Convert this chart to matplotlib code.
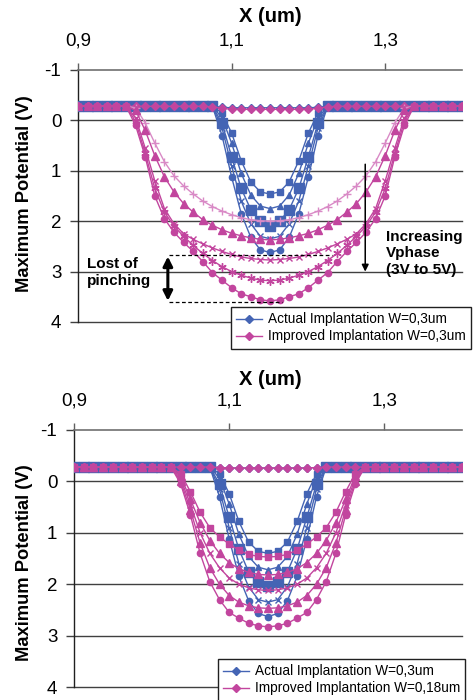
import numpy as np
import matplotlib.pyplot as plt
from matplotlib.lines import Line2D

plt.rcParams['font.family'] = ['Liberation Sans', 'DejaVu Sans']
plt.rcParams['axes.unicode_minus'] = False

BLUE = '#4464B4'
MAGENTA = '#C2459E'
PINK = '#D98AC6'
GRID = '#404040'

# simulation points along the channel (um); wells are centred at 1.15 um
x_pos = np.round(np.arange(0.9, 1.4 + 1e-9, 0.0125), 4)
x_center = 1.15
baseline = -0.28

# half profiles of the maximum potential (V), from the well centre outward,
# one value per 0.0125 um; past the end the curve sits on the baseline
# -- actual implantation, W = 0.3 um (upper panel)
act_top_dia = [-0.25, -0.25, -0.25, -0.25, -0.25, -0.26]
act_top_sq = [1.46, 1.42, 1.22, 0.80, 0.25, -0.15]
act_top_tri = [1.75, 1.70, 1.48, 1.05, 0.45, -0.05]
act_top_bsq = [2.09, 2.00, 1.77, 1.35, 0.72, 0.05]
act_top_x = [2.35, 2.30, 2.05, 1.60, 0.90, 0.15]
act_top_circ = [2.62, 2.57, 2.32, 1.85, 1.12, 0.30]
# -- improved implantation, W = 0.3 um (upper panel)
imp_top_dia = [-0.22, -0.22, -0.22, -0.22, -0.22, -0.24, -0.27]
imp_top_plus = [2.00, 1.99, 1.97, 1.93, 1.87, 1.80, 1.71, 1.60, 1.46, 1.30, 1.10, 0.82, 0.45, 0.05, -0.25]
imp_top_tri = [2.37, 2.36, 2.33, 2.29, 2.24, 2.17, 2.08, 1.97, 1.82, 1.65, 1.42, 1.12, 0.70, 0.20, -0.20]
imp_top_x = [2.77, 2.76, 2.74, 2.71, 2.66, 2.60, 2.53, 2.45, 2.36, 2.25, 2.05, 1.75, 1.20, 0.55, -0.05]
imp_top_star = [3.18, 3.17, 3.13, 3.07, 3.00, 2.90, 2.78, 2.64, 2.48, 2.30, 2.10, 1.82, 1.35, 0.65, 0.02]
imp_top_circ = [3.58, 3.56, 3.50, 3.44, 3.32, 3.17, 3.02, 2.80, 2.60, 2.42, 2.22, 1.95, 1.50, 0.72, 0.10]

# -- actual implantation, W = 0.3 um (lower panel)
act_bot_dia = [-0.26, -0.26, -0.26, -0.26, -0.26, -0.27]
act_bot_sq = [1.40, 1.36, 1.18, 0.78, 0.24, -0.15]
act_bot_tri = [1.72, 1.67, 1.46, 1.03, 0.44, -0.06]
act_bot_bsq = [2.03, 1.96, 1.76, 1.32, 0.70, 0.05]
act_bot_x = [2.35, 2.30, 2.05, 1.60, 0.90, 0.15]
act_bot_circ = [2.63, 2.57, 2.32, 1.85, 1.12, 0.30]
# -- improved implantation, W = 0.18 um (lower panel)
imp_bot_dia = [-0.26, -0.26, -0.26, -0.26, -0.26, -0.27]
imp_bot_sq = [1.47, 1.46, 1.42, 1.34, 1.22, 1.08, 0.90, 0.60, 0.20, -0.15]
imp_bot_tri = [1.82, 1.81, 1.77, 1.70, 1.58, 1.40, 1.15, 0.80, 0.35, -0.10]
imp_bot_x = [2.12, 2.11, 2.07, 2.00, 1.88, 1.68, 1.40, 1.00, 0.45, -0.05]
imp_bot_tri2 = [2.47, 2.46, 2.42, 2.35, 2.22, 2.00, 1.68, 1.20, 0.55, 0.00]
imp_bot_circ = [2.83, 2.81, 2.76, 2.66, 2.55, 2.30, 1.95, 1.40, 0.65, 0.05]

ASTERISK = (6, 2, 0)


def profile(half):
    """Full curve on x_pos: mirrored half profile on the flat baseline."""
    y = np.full(x_pos.size, baseline)
    c = int(np.argmin(np.abs(x_pos - x_center)))
    n = len(half)
    y[c - n + 1:c + n] = np.r_[half[:0:-1], half]
    return y


def draw_series(ax, half, color, marker, ms):
    ax.plot(x_pos, profile(half), color=color, lw=1, marker=marker, ms=ms,
            mfc=color, mec=color, mew=1, zorder=3)


def style_axes(ax):
    ax.set_xlim(0.9, 1.4)
    ax.set_ylim(4, -1)
    ax.xaxis.tick_top()
    ax.set_xticks([0.9, 1.1, 1.3])
    ax.set_xticklabels(['0,9', '1,1', '1,3'])
    ax.set_yticks([-1, 0, 1, 2, 3, 4])
    ax.tick_params(axis='x', direction='out', length=5, width=1, pad=10,
                   labelsize=13.5, color='#606060')
    ax.tick_params(axis='y', direction='out', length=6, width=1, pad=6,
                   labelsize=13.5, color=GRID)
    for s in ('right', 'bottom'):
        ax.spines[s].set_visible(False)
    ax.spines['top'].set_color('#707070')
    ax.spines['top'].set_linewidth(1.2)
    ax.spines['left'].set_color('#202020')
    ax.spines['left'].set_linewidth(1)
    for v in [0, 1, 2, 3, 4]:
        ax.axhline(v, color=GRID, lw=1, zorder=1, clip_on=False)


def add_legend(fig, x0, y0, labels):
    handles = [Line2D([], [], color=BLUE, marker='D', ms=4, lw=1),
               Line2D([], [], color=MAGENTA, marker='D', ms=4, lw=1)]
    leg = fig.legend(handles, labels, loc='upper left', bbox_to_anchor=(x0, y0),
                     bbox_transform=fig.transFigure, fontsize=9.8, frameon=True,
                     fancybox=False, framealpha=1, edgecolor='#202020',
                     handlelength=1.9, handletextpad=0.4, labelspacing=0.22,
                     borderpad=0.4, borderaxespad=0)
    leg.get_frame().set_linewidth(1)


fig = plt.figure(figsize=(4.75, 7.0), dpi=100)
W, H = 475, 700
ax1 = fig.add_axes([78 / W, 1 - 322 / H, 384 / W, 252 / H])
ax2 = fig.add_axes([74 / W, 1 - 687 / H, 388 / W, 257 / H])

# upper panel: both implantations with W = 0.3 um
for half, mk, ms in [(act_top_dia, 'D', 4), (act_top_sq, 's', 4), (act_top_tri, '^', 5),
                     (act_top_bsq, 's', 7), (act_top_x, 'x', 5), (act_top_circ, 'o', 4.5)]:
    draw_series(ax1, half, BLUE, mk, ms)
for half, mk, ms, col in [(imp_top_dia, 'D', 4, MAGENTA), (imp_top_plus, '+', 6, PINK),
                          (imp_top_tri, '^', 5.5, MAGENTA), (imp_top_x, 'x', 5, MAGENTA),
                          (imp_top_star, ASTERISK, 6, MAGENTA), (imp_top_circ, 'o', 4.5, MAGENTA)]:
    draw_series(ax1, half, col, mk, ms)
style_axes(ax1)

# pinching markers and Vphase arrow
ax1.plot([1.019, 1.231], [2.68, 2.68], color='black', lw=0.9, ls=(0, (3, 2)), zorder=4)
ax1.plot([1.019, 1.166], [3.60, 3.60], color='black', lw=0.9, ls=(0, (3, 2)), zorder=4)
ax1.annotate('', xy=(1.017, 2.70), xytext=(1.017, 3.58),
             arrowprops=dict(arrowstyle='<|-|>', color='black', lw=2.2, mutation_scale=14,
                             shrinkA=0, shrinkB=0), zorder=5)
ax1.annotate('', xy=(1.274, 3.0), xytext=(1.274, 0.87),
             arrowprops=dict(arrowstyle='-|>', color='black', lw=1.1, mutation_scale=10,
                             shrinkA=0, shrinkB=0), zorder=5)
ax1.text(0.912, 3.02, 'Lost of\npinching', fontsize=11, fontweight='bold',
         ha='left', va='center', linespacing=1.25)
ax1.text(1.301, 2.64, 'Increasing\nVphase\n(3V to 5V)', fontsize=11, fontweight='bold',
         ha='left', va='center', linespacing=1.25, clip_on=False)

# lower panel: improved implantation with W = 0.18 um
for half, mk, ms in [(act_bot_dia, 'D', 4), (act_bot_sq, 's', 4), (act_bot_tri, '^', 5),
                     (act_bot_bsq, 's', 7), (act_bot_x, 'x', 5), (act_bot_circ, 'o', 4.5)]:
    draw_series(ax2, half, BLUE, mk, ms)
for half, mk, ms in [(imp_bot_dia, 'D', 4), (imp_bot_sq, 's', 5), (imp_bot_tri, '^', 5.5),
                     (imp_bot_x, 'x', 5), (imp_bot_tri2, '^', 5.5), (imp_bot_circ, 'o', 4.5)]:
    draw_series(ax2, half, MAGENTA, mk, ms)
style_axes(ax2)

# axis titles
for yc_x, yc_label in [(1 - 17 / H, 1 - 194 / H), (1 - 380 / H, 1 - 563 / H)]:
    fig.text(270 / W, yc_x, 'X (um)', fontsize=14.5, fontweight='bold', ha='center', va='center')
    fig.text(25 / W, yc_label, 'Maximum Potential (V)', fontsize=13.2, fontweight='bold',
             rotation=90, ha='center', va='center')

add_legend(fig, 231 / W, 1 - 307 / H,
           ['Actual Implantation W=0,3um', 'Improved Implantation W=0,3um'])
add_legend(fig, 218 / W, 1 - 659 / H,
           ['Actual Implantation W=0,3um', 'Improved Implantation W=0,18um'])

fig.savefig('out.png', dpi=100)
